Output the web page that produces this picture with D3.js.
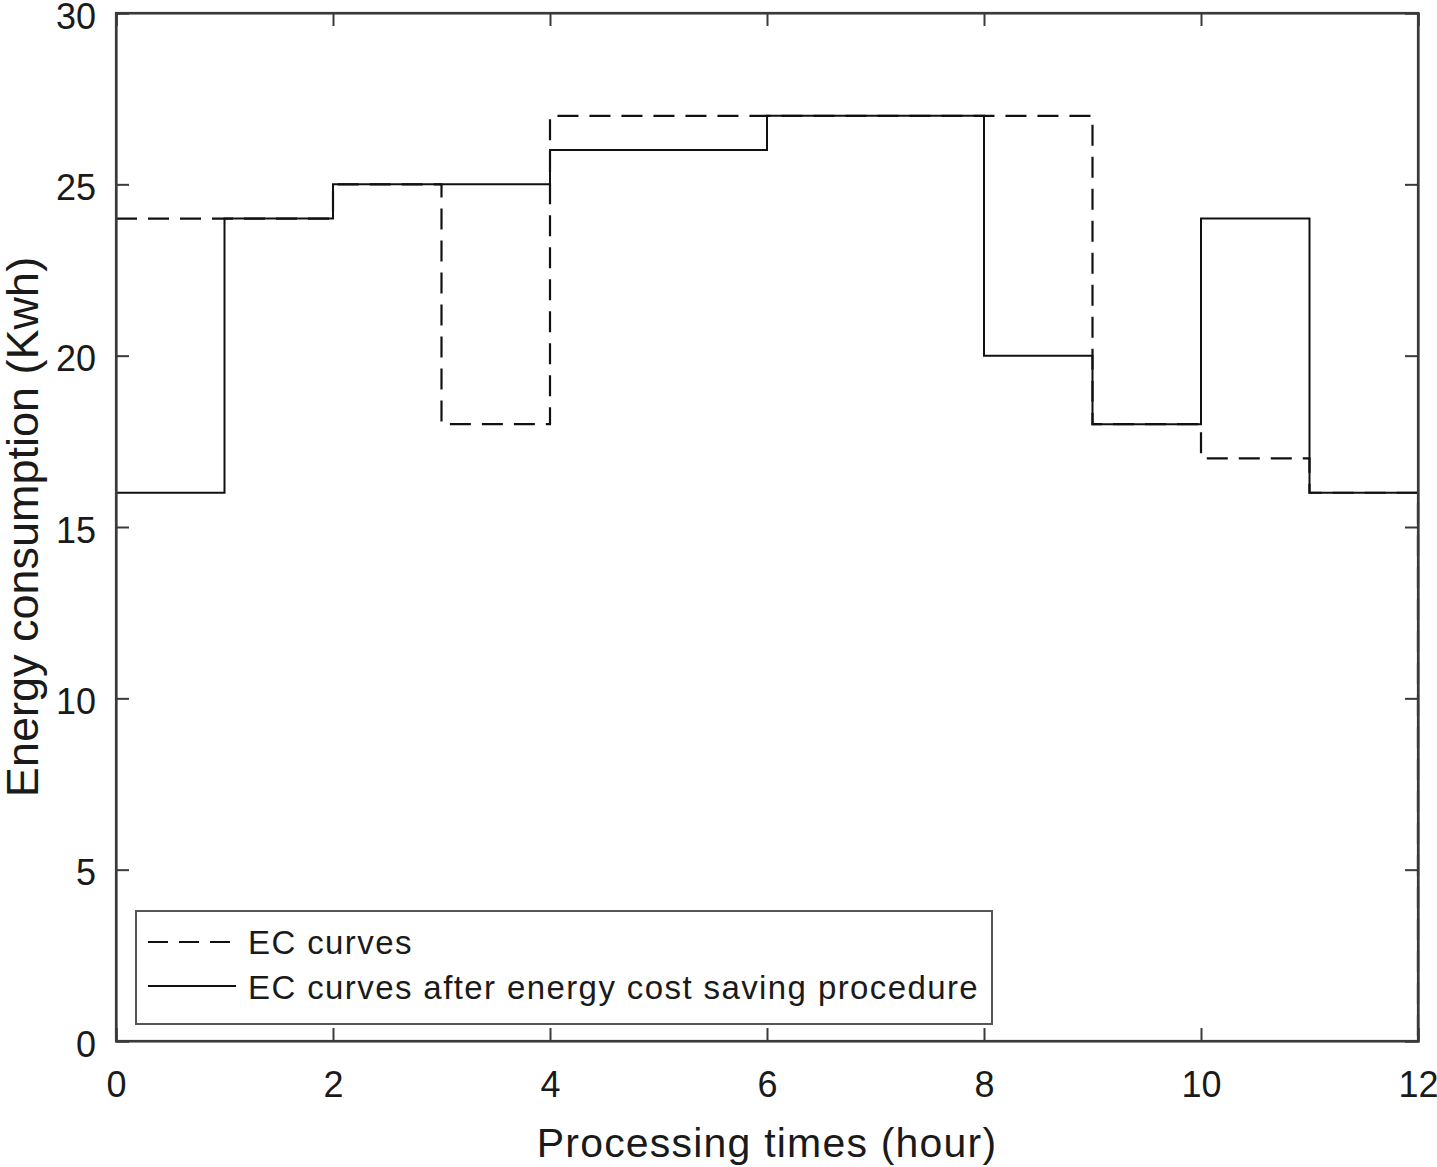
<!DOCTYPE html>
<html><head><meta charset="utf-8">
<script src="https://cdn.jsdelivr.net/npm/d3@7"></script>
<style>body{margin:0;background:#fff}svg{display:block}text{font-family:Arial,"Liberation Sans",Helvetica,sans-serif;fill:#1a1a1a}</style>
</head><body><svg id="c" width="1437" height="1167"></svg>
<script>
const hours = [0,1,2,3,4,5,6,7,8,9,10,11,12];
const ecCurve = [24,24,25,18,27,27,27,27,27,18,17,16,0];
const ecAfterSaving = [16,24,25,25,26,26,27,27,20,18,24,16,0];
const xTicks = [0,2,4,6,8,10,12];
const yTicks = [0,5,10,15,20,25,30];
const seriesNames = ["EC curves","EC curves after energy cost saving procedure"];
const xTitle = "Processing times (hour)";
const yTitle = "Energy consumption (Kwh)";

const svg = d3.select("#c");
const L=116,R=1418,T=13,B=1041;
const x = d3.scaleLinear().domain([0,12]).range([L,R]);
const y = d3.scaleLinear().domain([0,30]).range([B,T]);
const axisColor="#3a3a3a", tk=13;

const line = d3.line().x(d=>x(d[0])).y(d=>y(d[1])).curve(d3.curveStepAfter);
svg.append("path").datum(hours.map((h,i)=>[h,ecCurve[i]]))
  .attr("d",line).attr("fill","none").attr("stroke","#111").attr("stroke-width",2.2)
  .attr("stroke-dasharray","21,11");
svg.append("path").datum(hours.map((h,i)=>[h,ecAfterSaving[i]]))
  .attr("d",line).attr("fill","none").attr("stroke","#111").attr("stroke-width",2);

// axes
const g = svg.append("g");
const gx = g.append("g").attr("transform",`translate(0,${B})`).call(d3.axisBottom(x).tickValues(xTicks).tickSize(-tk).tickPadding(30).tickFormat(d3.format("d")));
g.append("g").attr("transform",`translate(0,${T})`).call(d3.axisTop(x).tickValues(xTicks).tickSize(-tk).tickFormat(""));
const gy = g.append("g").attr("transform",`translate(${L},0)`).call(d3.axisLeft(y).tickValues(yTicks).tickSize(-tk).tickPadding(20).tickFormat(d3.format("d")));
g.append("g").attr("transform",`translate(${R},0)`).call(d3.axisRight(y).tickValues(yTicks).tickSize(-tk).tickFormat(""));
g.selectAll(".domain").attr("stroke",axisColor).attr("stroke-width",2.2);
g.selectAll(".tick line").attr("stroke",axisColor).attr("stroke-width",2);
g.selectAll(".tick text").attr("font-size",36).attr("fill","#1a1a1a").style("font-family","Arial, 'Liberation Sans', sans-serif");
gy.selectAll(".tick text").attr("dy","0.42em");
svg.append("rect").attr("x",L).attr("y",T).attr("width",R-L).attr("height",B-T).attr("fill","none").attr("stroke",axisColor).attr("stroke-width",2.2);

svg.append("text").attr("x",(L+R)/2).attr("y",1157).attr("text-anchor","middle").attr("font-size",41).attr("letter-spacing",1.2).text(xTitle);
svg.append("text").attr("transform",`translate(38,${(T+B)/2}) rotate(-90)`).attr("text-anchor","middle").attr("font-size",45).text(yTitle);

// legend
const lg = svg.append("g");
lg.append("rect").attr("x",136).attr("y",911).attr("width",856).attr("height",113).attr("fill","#fff").attr("stroke","#555").attr("stroke-width",2);
lg.append("line").attr("x1",148).attr("x2",232).attr("y1",942).attr("y2",942).attr("stroke","#111").attr("stroke-width",2).attr("stroke-dasharray","20,11");
lg.append("line").attr("x1",148).attr("x2",236).attr("y1",986).attr("y2",986).attr("stroke","#111").attr("stroke-width",2);
lg.append("text").attr("x",248).attr("y",954).attr("font-size",33).attr("letter-spacing",1.4).text(seriesNames[0]);
lg.append("text").attr("x",248).attr("y",999).attr("font-size",33).attr("letter-spacing",1.4).text(seriesNames[1]);
</script></body></html>
